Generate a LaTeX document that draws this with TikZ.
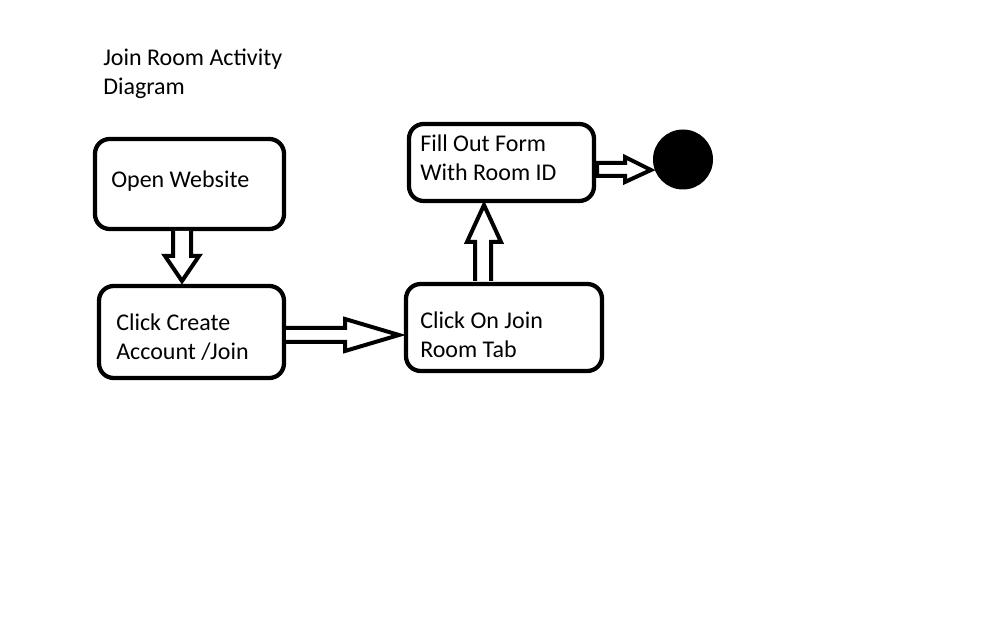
\documentclass[tikz,border=0pt]{standalone}
\usepackage{fontspec}
\setmainfont{Carlito}
\begin{document}
\begin{tikzpicture}[x=0.75pt,y=-0.75pt,
  box/.style={draw=black, line width=3.2pt, rounded corners=11pt, inner sep=0pt},
  lbl/.style={anchor=base west, inner sep=0pt, align=left, font=\fontsize{18}{21.75}\selectfont},
  blockarrow/.style={draw=black, fill=white, line width=3pt, line join=miter}]
\useasboundingbox (0,0) rectangle (1008,630);
% title
\node[lbl] (title) at (103,95) {Join Room Activity\\Diagram};
% boxes
\node[box, minimum width=141.75pt, minimum height=67.5pt] (b1) at (189.5,184) {};
\node[box, minimum width=138.75pt, minimum height=69pt] (b2) at (191.5,332) {};
\node[box, minimum width=147pt, minimum height=65.25pt] (b3) at (504,327.5) {};
\node[box, minimum width=138.75pt, minimum height=57.75pt] (b4) at (501.5,162.5) {};
\node[circle, fill=black, minimum size=45pt, inner sep=0pt] (end) at (683,159.5) {};
% labels
\node[lbl] (t1) at (111,188) {Open Website};
\node[lbl] (t2) at (116,360) {Click Create\\Account /Join};
\node[lbl] (t3) at (420,358) {Click On Join\\Room Tab};
\node[lbl] (t4) at (420,181) {Fill Out Form\\With Room ID};
% block arrows
\draw[blockarrow] (173,231) -- (173,256) -- (165,256) -- (182,281) -- (199,256) -- (191,256) -- (191,231);
\draw[blockarrow] (286,328) -- (345,328) -- (345,319) -- (399,335) -- (345,351) -- (345,342) -- (286,342);
\draw[blockarrow] (475,281) -- (475,242) -- (467,242) -- (484,205) -- (501,242) -- (491,242) -- (491,281);
\draw[blockarrow] (597,163) -- (625,163) -- (625,157) -- (651,170) -- (625,182) -- (625,176) -- (597,176) -- cycle;
\end{tikzpicture}
\end{document}
